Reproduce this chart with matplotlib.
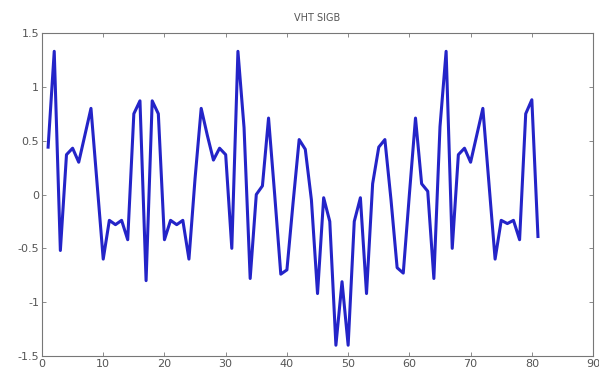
import matplotlib
matplotlib.use("Agg")
import matplotlib.pyplot as plt
import numpy as np

title = "VHT SIGB"
x = list(range(1, 82))
y = [0.44, 1.33, -0.52, 0.37, 0.43, 0.30, 0.55, 0.80, 0.10, -0.60,
     -0.24, -0.28, -0.24, -0.42, 0.75, 0.87, -0.80, 0.87, 0.75, -0.42,
     -0.24, -0.28, -0.24, -0.60, 0.15, 0.80, 0.55, 0.32, 0.43, 0.37,
     -0.50, 1.33, 0.62, -0.78, 0.00, 0.08, 0.71, 0.00, -0.74, -0.70,
     -0.08, 0.51, 0.42, -0.05, -0.92, -0.03, -0.25, -1.40, -0.81, -1.40,
     -0.25, -0.03, -0.92, 0.10, 0.44, 0.51, -0.05, -0.68, -0.73, 0.00,
     0.71, 0.10, 0.03, -0.78, 0.63, 1.33, -0.50, 0.37, 0.43, 0.30,
     0.55, 0.80, 0.10, -0.60, -0.24, -0.27, -0.24, -0.42, 0.75, 0.88,
     -0.39]
xticks = [0, 10, 20, 30, 40, 50, 60, 70, 80, 90]
yticks = [-1.5, -1, -0.5, 0, 0.5, 1, 1.5]
ytick_labels = ["-1.5", "-1", "-0.5", "0", "0.5", "1", "1.5"]

fig = plt.figure(figsize=(5.99, 3.76), dpi=100)
ax = fig.add_axes([0.0701, 0.0532, 0.920, 0.859])
ax.plot(x, y, color="#2424c8", linewidth=2.2)
ax.set_xlim(0, 90)
ax.set_ylim(-1.5, 1.5)
ax.set_xticks(xticks)
ax.set_xticklabels([str(t) for t in xticks])
ax.set_yticks(yticks)
ax.set_yticklabels(ytick_labels)
ax.tick_params(direction="in", length=3, width=0.6, colors="#777777",
               labelcolor="#555555", labelsize=8, top=True, right=True, pad=2)
for s in ax.spines.values():
    s.set_color("#777777")
    s.set_linewidth(0.8)
ax.set_title(title, fontsize=7, color="#555555", pad=9)
fig.savefig("out.png", dpi=100)
